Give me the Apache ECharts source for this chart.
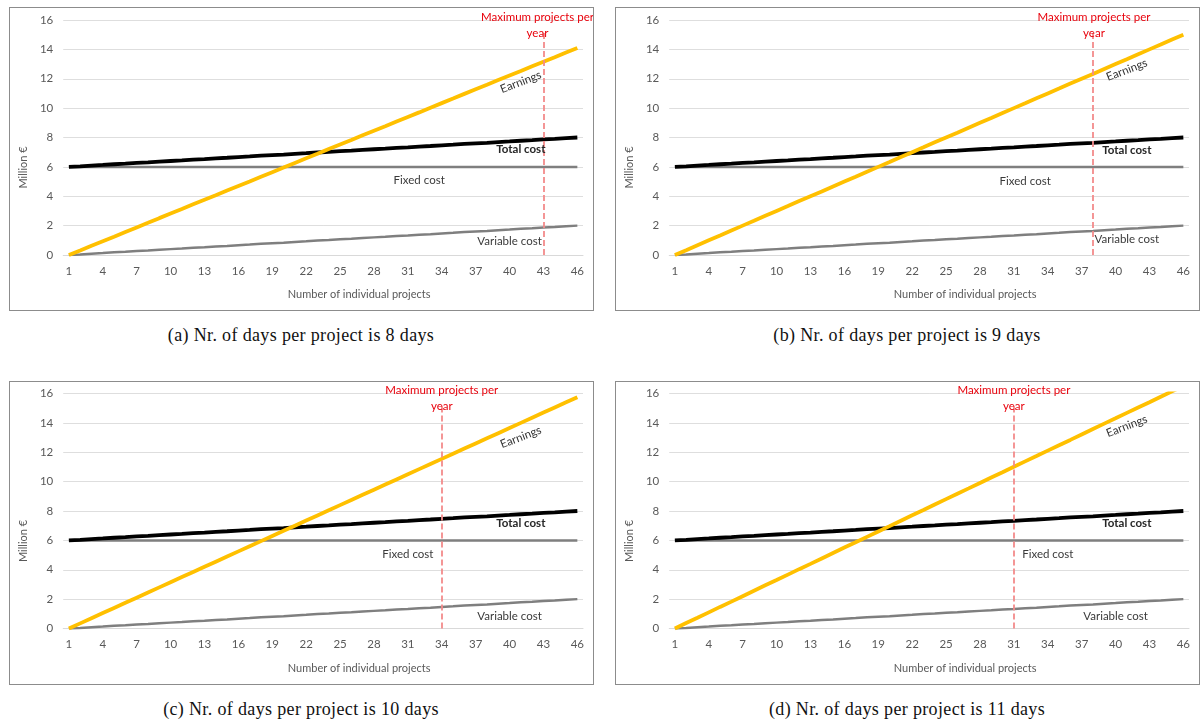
<!DOCTYPE html>
<html><head><meta charset="utf-8">
<script src="https://cdn.jsdelivr.net/npm/echarts@6/dist/echarts.min.js"></script>
<style>
body{margin:0;background:#fff;width:1200px;height:722px;position:relative;overflow:hidden;font-family:Lato,sans-serif}
.panel{position:absolute;width:583px;height:302px;border:1px solid #8c8c8c}
.cap{position:absolute;width:600px;text-align:center;font-family:"Liberation Serif",serif;font-size:18px;letter-spacing:0.35px;line-height:20px;color:#111}
</style></head><body>
<div id="pa" class="panel" style="left:9px;top:7px"></div>
<div id="pb" class="panel" style="left:615px;top:7px"></div>
<div id="pc" class="panel" style="left:9px;top:381px"></div>
<div id="pd" class="panel" style="left:615px;top:381px"></div>
<div class="cap" style="left:1px;top:325px">(a) Nr. of days per project is 8 days</div>
<div class="cap" style="left:607px;top:325px">(b) Nr. of days per project is 9 days</div>
<div class="cap" style="left:1px;top:699px">(c) Nr. of days per project is 10 days</div>
<div class="cap" style="left:607px;top:699px">(d) Nr. of days per project is 11 days</div>
<script>
const categories = ['1','2','3','4','5','6','7','8','9','10','11','12','13','14','15','16','17','18','19','20','21','22','23','24','25','26','27','28','29','30','31','32','33','34','35','36','37','38','39','40','41','42','43','44','45','46'];
const fixedCost = [6,6,6,6,6,6,6,6,6,6,6,6,6,6,6,6,6,6,6,6,6,6,6,6,6,6,6,6,6,6,6,6,6,6,6,6,6,6,6,6,6,6,6,6,6,6];
const variableCost = [0,0.04,0.09,0.13,0.18,0.22,0.27,0.31,0.36,0.40,0.44,0.49,0.53,0.58,0.62,0.67,0.71,0.76,0.80,0.84,0.89,0.93,0.98,1.02,1.07,1.11,1.16,1.20,1.24,1.29,1.33,1.38,1.42,1.47,1.51,1.56,1.60,1.64,1.69,1.73,1.78,1.82,1.87,1.91,1.96,2.00];
const totalCost = [6.00,6.04,6.09,6.13,6.18,6.22,6.27,6.31,6.36,6.40,6.44,6.49,6.53,6.58,6.62,6.67,6.71,6.76,6.80,6.84,6.89,6.93,6.98,7.02,7.07,7.11,7.16,7.20,7.24,7.29,7.33,7.38,7.42,7.47,7.51,7.56,7.60,7.64,7.69,7.73,7.78,7.82,7.87,7.91,7.96,8.00];
const earnings8days = [0,0.31,0.63,0.94,1.25,1.57,1.88,2.19,2.51,2.82,3.13,3.45,3.76,4.07,4.39,4.70,5.01,5.33,5.64,5.95,6.27,6.58,6.89,7.21,7.52,7.83,8.15,8.46,8.77,9.09,9.40,9.71,10.03,10.34,10.65,10.97,11.28,11.59,11.91,12.22,12.53,12.85,13.16,13.47,13.79,14.10];
const earnings9days = [0,0.33,0.67,1.00,1.33,1.67,2.00,2.33,2.67,3.00,3.33,3.67,4.00,4.33,4.67,5.00,5.33,5.67,6.00,6.33,6.67,7.00,7.33,7.67,8.00,8.33,8.67,9.00,9.33,9.67,10.00,10.33,10.67,11.00,11.33,11.67,12.00,12.33,12.67,13.00,13.33,13.67,14.00,14.33,14.67,15.00];
const earnings10days = [0,0.35,0.70,1.05,1.40,1.75,2.10,2.45,2.80,3.15,3.50,3.85,4.20,4.55,4.90,5.25,5.60,5.95,6.30,6.65,7.00,7.35,7.70,8.05,8.40,8.75,9.10,9.45,9.80,10.15,10.50,10.85,11.20,11.55,11.90,12.25,12.60,12.95,13.30,13.65,14.00,14.35,14.70,15.05,15.40,15.75];
const earnings11days = [0,0.37,0.73,1.10,1.47,1.83,2.20,2.57,2.94,3.30,3.67,4.04,4.40,4.77,5.14,5.51,5.87,6.24,6.61,6.97,7.34,7.71,8.07,8.44,8.81,9.18,9.54,9.91,10.28,10.64,11.01,11.38,11.74,12.11,12.48,12.84,13.21,13.58,13.95,14.31,14.68,15.05,15.41,15.78,16.15,16.51];
const maxProjectsPerYear = ['43','38','34','31'];
const seriesNames = ['Fixed cost','Variable cost','Total cost','Earnings'];
const maxLabel = 'Maximum projects per\nyear';
const yName = 'Million €';
const xName = 'Number of individual projects';

// annotation anchors (category index, value) – layout only
const panels = [
  {id:'pa', earnings:earnings8days, max:maxProjectsPerYear[0], top:12, maxDx:-6,
   pos:{earn:[39.9,11.78], total:[39.6,7.22], fixed:[30.9,5.1], variable:[39.0,0.95]}},
  {id:'pb', earnings:earnings9days, max:maxProjectsPerYear[1], top:12, maxDx:1,
   pos:{earn:[39.8,12.6], total:[40.3,7.15], fixed:[30.8,5.04], variable:[40.4,1.09]}},
  {id:'pc', earnings:earnings10days, max:maxProjectsPerYear[2], top:11.5, maxDx:0,
   pos:{earn:[40.2,13.03], total:[39.5,7.19], fixed:[30.4,5.08], variable:[38.9,0.86]}},
  {id:'pd', earnings:earnings11days, max:maxProjectsPerYear[3], top:11.5, maxDx:0,
   pos:{earn:[40.2,13.78], total:[39.5,7.19], fixed:[33.0,5.08], variable:[38.9,0.86]}}
];
const FONT = 'Lato';
function textPoint(coord, text, opts){
  return {coord: coord, symbol:'circle', symbolSize:1, itemStyle:{color:'rgba(0,0,0,0)'},
    label:Object.assign({show:true, position:'inside', formatter:text, fontFamily:FONT, fontSize:11.5, color:'#3a3a3a'}, opts||{})};
}
panels.forEach(p=>{
  const chart = echarts.init(document.getElementById(p.id), null, {renderer:'canvas', width:583, height:302});
  const mk = (arr)=>({markPoint:{silent:true, animation:false, data:arr}});
  chart.setOption({
    animation:false,
    grid:{left:52, top:p.top, width:521, height:235},
    xAxis:{type:'category', data:categories, boundaryGap:true,
      axisTick:{show:false}, axisLine:{lineStyle:{color:'#d9d9d9'}},
      axisLabel:{interval:2, color:'#595959', fontFamily:FONT, fontSize:11.5, margin:10},
      name:xName, nameLocation:'middle', nameGap:34,
      nameTextStyle:{color:'#595959', fontFamily:FONT, fontSize:11, padding:[0,0,0,72]}},
    yAxis:{type:'value', min:0, max:16, interval:2,
      axisLine:{show:false}, axisTick:{show:false},
      splitLine:{lineStyle:{color:'#dedede', width:1}},
      axisLabel:{color:'#595959', fontFamily:FONT, fontSize:11.5, margin:10},
      name:yName, nameLocation:'middle', nameGap:30,
      nameTextStyle:{color:'#595959', fontFamily:FONT, fontSize:11, padding:[0,60,0,0]}},
    series:[
      Object.assign({name:seriesNames[0], type:'line', data:fixedCost, symbol:'none', lineStyle:{color:'#7f7f7f', width:2.5}},
        mk([textPoint(p.pos.fixed, seriesNames[0])])),
      Object.assign({name:seriesNames[1], type:'line', data:variableCost, symbol:'none', lineStyle:{color:'#7f7f7f', width:2.5}},
        mk([textPoint(p.pos.variable, seriesNames[1])])),
      Object.assign({name:seriesNames[2], type:'line', data:totalCost, symbol:'none', lineStyle:{color:'#000', width:3.8}},
        mk([textPoint(p.pos.total, seriesNames[2], {fontWeight:'bold', color:'#262626'})])),
      {name:seriesNames[3], type:'line', data:p.earnings, symbol:'none', clip:true, lineStyle:{color:'#ffc000', width:3.8},
        markPoint:{silent:true, animation:false, data:[
          textPoint(p.pos.earn, seriesNames[3], {rotate:21, color:'#333'}),
          textPoint([p.max, 15.65], maxLabel, {color:'#e8000b', lineHeight:16, offset:[p.maxDx,0]})
        ]},
        markLine:{silent:true, animation:false, symbol:'none', label:{show:false},
          lineStyle:{color:'#f38b8b', type:[6,3], width:1.8},
          data:[[{coord:[p.max,0]},{coord:[p.max,15.3]}]]}}
    ]
  });
});
</script>
</body></html>
